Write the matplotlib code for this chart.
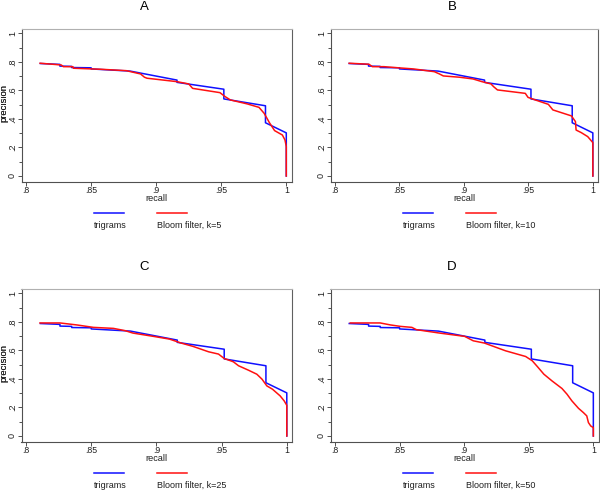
import matplotlib
matplotlib.use("Agg")
import matplotlib.pyplot as plt
from matplotlib.lines import Line2D

plt.rcParams['font.family'] = ['Liberation Sans', 'DejaVu Sans']

panel_titles = ["A", "B", "C", "D"]
bloom_k = [5, 10, 25, 50]

xtick_vals = [0.8, 0.85, 0.9, 0.95, 1.0]
xtick_labels = [".8", ".85", ".9", ".95", "1"]
ytick_vals = [0, 0.2, 0.4, 0.6, 0.8, 1.0]
ytick_labels = ["0", ".2", ".4", ".6", ".8", "1"]
yminor_vals = [0.1, 0.3, 0.5, 0.7, 0.9]

# trigrams curve (same in every panel)
tri_recall = [0.811, 0.826, 0.826, 0.835, 0.835, 0.850, 0.850, 0.880, 0.916, 0.916,
              0.952, 0.952, 0.984, 0.984, 1.0, 1.0]
tri_prec = [0.788, 0.782, 0.770, 0.768, 0.760, 0.758, 0.750, 0.735, 0.672, 0.656,
            0.608, 0.540, 0.492, 0.373, 0.302, 0.0]

# bloom filter curves
bloom_recall_a = [0.8108, 0.827, 0.8287, 0.836, 0.8364, 0.857, 0.877, 0.888, 0.891, 0.893,
                  0.916, 0.925, 0.928, 0.949, 0.953, 0.957, 0.970, 0.979, 0.983, 0.987,
                  0.991, 0.997, 0.999, 1.0, 1.0]
bloom_prec_a = [0.790, 0.778, 0.766, 0.766, 0.755, 0.748, 0.738, 0.715, 0.692, 0.685,
                0.661, 0.645, 0.614, 0.584, 0.556, 0.533, 0.505, 0.481, 0.439, 0.374,
                0.318, 0.287, 0.252, 0.206, 0.0]

bloom_recall_b = [0.811, 0.8263, 0.829, 0.838, 0.8506, 0.861, 0.877, 0.881, 0.884, 0.8966,
                  0.907, 0.914, 0.921, 0.923, 0.926, 0.9476, 0.9497, 0.954, 0.9655, 0.969,
                  0.9834, 0.9865, 0.987, 0.991, 0.996, 1.0, 1.0]
bloom_prec_b = [0.790, 0.783, 0.766, 0.766, 0.757, 0.750, 0.731, 0.715, 0.701, 0.692,
                0.680, 0.661, 0.645, 0.626, 0.603, 0.579, 0.551, 0.537, 0.502, 0.463,
                0.421, 0.381, 0.322, 0.304, 0.276, 0.234, 0.0]

bloom_recall_c = [0.8107, 0.826, 0.839, 0.8517, 0.867, 0.876, 0.882, 0.8977, 0.910, 0.919,
                  0.928, 0.940, 0.9476, 0.952, 0.959, 0.963, 0.9706, 0.977, 0.981, 0.9847,
                  0.989, 0.9949, 0.998, 1.0, 1.0]
bloom_prec_c = [0.792, 0.792, 0.778, 0.761, 0.754, 0.738, 0.721, 0.698, 0.679, 0.651,
                0.628, 0.590, 0.574, 0.543, 0.520, 0.492, 0.461, 0.433, 0.398, 0.351,
                0.328, 0.281, 0.246, 0.215, 0.0]

bloom_recall_d = [0.8118, 0.835, 0.843, 0.8506, 0.8595, 0.863, 0.881, 0.9004, 0.907, 0.9157,
                  0.932, 0.9476, 0.9527, 0.9566, 0.9617, 0.968, 0.9757, 0.9796, 0.9834, 0.9885,
                  0.9923, 0.9949, 0.9962, 0.998, 1.0, 1.0]
bloom_prec_d = [0.792, 0.792, 0.778, 0.768, 0.761, 0.745, 0.721, 0.698, 0.667, 0.651,
                0.597, 0.557, 0.527, 0.487, 0.433, 0.386, 0.333, 0.293, 0.246, 0.194,
                0.164, 0.141, 0.094, 0.070, 0.059, 0.0]

bloom_recall = [bloom_recall_a, bloom_recall_b, bloom_recall_c, bloom_recall_d]
bloom_prec = [bloom_prec_a, bloom_prec_b, bloom_prec_c, bloom_prec_d]

W, H = 600, 493
fig = plt.figure(figsize=(6, 4.93), dpi=100)

# axes boxes in pixels: left, top, right, bottom
boxes = [(21.5, 28.7, 291.5, 181.7), (330.5, 28.7, 598, 181.7),
         (21.5, 288.7, 292, 441.7), (330.5, 288.7, 598.5, 441.7)]
title_x = [144, 452, 144, 452]

for i, (l, t, r, b) in enumerate(boxes):
    ax = fig.add_axes([l / W, 1 - b / H, (r - l) / W, (b - t) / H])
    ax.plot(tri_recall, tri_prec, color="#1010ff", lw=1.1)
    ax.plot(bloom_recall[i], bloom_prec[i], color="#ff1010", lw=1.1)
    ax.set_xlim(0.7965, 1.004)
    ax.set_ylim(-0.04, 1.032)
    ax.set_xticks(xtick_vals)
    ax.set_xticklabels(xtick_labels, fontsize=6.3)
    ax.set_yticks(ytick_vals)
    ax.set_yticklabels(ytick_labels, fontsize=6.5, rotation=90, va="center")
    ax.set_yticks(yminor_vals, minor=True)
    ax.tick_params(axis="both", which="both", color="#505050", length=2.6, width=0.7,
                   pad=0.2, labelcolor="#202020")
    ax.tick_params(axis="y", which="both", length=3, pad=0.3)
    ax.tick_params(axis="y", which="minor", length=2)
    ax.set_xlabel("recall", fontsize=6.6, color="#202020", va="center")
    ax.xaxis.set_label_coords(0.5, -17 / (b - t))
    ax.set_ylabel("precision", fontsize=6.8, color="#202020", va="center")
    ax.yaxis.set_label_coords((4 - l) / (r - l), 0.5 + 2 / (b - t))
    for side, col in [("left", "#505050"), ("bottom", "#505050"),
                      ("right", "#606060"), ("top", "#b0b0b0")]:
        ax.spines[side].set_color(col)
        ax.spines[side].set_linewidth(0.8)

    fig.text(title_x[i] / W, 1 - (t - 21.5) / H, panel_titles[i], fontsize=9.5,
             ha="center", va="center")

    # legend keys below the plot
    ly = b + 31
    ty = b + 43.5
    fig.add_artist(Line2D([(l + 72.5) / W, (l + 102) / W], [1 - ly / H, 1 - ly / H],
                          color="#1010ff", lw=1.1))
    fig.add_artist(Line2D([(l + 135.5) / W, (l + 165) / W], [1 - ly / H, 1 - ly / H],
                          color="#ff1010", lw=1.1))
    fig.text((l + 72.5) / W, 1 - ty / H, "trigrams", fontsize=6.5, va="center",
             color="#202020")
    fig.text((l + 135.5) / W, 1 - ty / H, "Bloom filter, k=%d" % bloom_k[i],
             fontsize=6.5, va="center", color="#202020")

fig.savefig("out.png", dpi=100, facecolor="white")
